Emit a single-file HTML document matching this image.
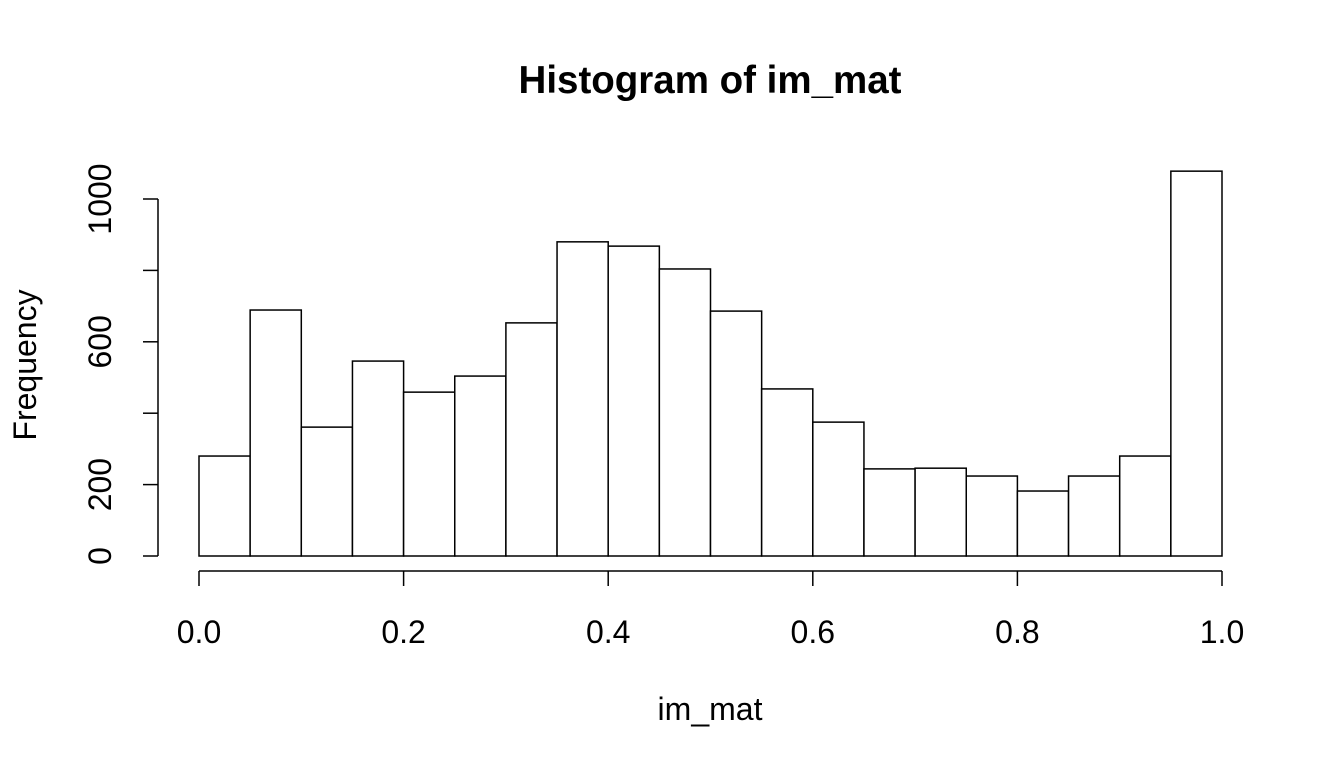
<!DOCTYPE html>
<html><head><meta charset="utf-8"><style>
body{margin:0;background:#fff}
svg text{font-family:"Liberation Sans",Arial,sans-serif;fill:#000}
</style></head><body>
<svg id="chart" width="1344" height="768" xmlns="http://www.w3.org/2000/svg">
<text x="710" y="93" font-size="38.5" font-weight="bold" text-anchor="middle">Histogram of im_mat</text>
<text x="710" y="720" font-size="32" text-anchor="middle">im_mat</text>
<text transform="translate(36,365) rotate(-90)" font-size="32" text-anchor="middle">Frequency</text>
<g id="bars"></g><g id="axes"></g>
</svg>
<script>
const binStarts=[0,0.05,0.1,0.15,0.2,0.25,0.3,0.35,0.4,0.45,0.5,0.55,0.6,0.65,0.7,0.75,0.8,0.85,0.9,0.95];
const counts=[280,689,361,546,459,504,653,880,868,804,686,468,375,244,246,224,182,224,280,1078];
const xTicks=[0,0.2,0.4,0.6,0.8,1.0];
const xTickLabels=["0.0","0.2","0.4","0.6","0.8","1.0"];
const yTicks=[0,200,600,1000];
const yTickLabels=["0","200","600","1000"];
const yMinorTicks=[400,800];
const binWidth=0.05;
const NS="http://www.w3.org/2000/svg";
const sx=v=>199+v*1023, sy=v=>556-v*0.357;
const bars=document.getElementById('bars'), axes=document.getElementById('axes');
function mk(tag,attrs,parent){const e=document.createElementNS(NS,tag);for(const k in attrs)e.setAttribute(k,attrs[k]);parent.appendChild(e);return e;}
binStarts.forEach((b,i)=>{
 const r=mk('rect',{x:sx(b),y:sy(counts[i]),width:sx(b+binWidth)-sx(b),height:sy(0)-sy(counts[i]),fill:'#fff',stroke:'#000','stroke-width':1.5},bars);
 
 
});
const xl=mk('line',{x1:sx(0),x2:sx(1),y1:571,y2:571,stroke:'#000','stroke-width':1.5},axes);


xTicks.forEach((t,i)=>{
 mk('line',{x1:sx(t),x2:sx(t),y1:571,y2:586,stroke:'#000','stroke-width':1.5},axes);
 const tx=mk('text',{x:sx(t),y:643,'font-size':32,'text-anchor':'middle'},axes);
 tx.textContent=xTickLabels[i];
 
 
});
const yl=mk('line',{x1:158,x2:158,y1:sy(0),y2:sy(1000),stroke:'#000','stroke-width':1.5},axes);


yTicks.concat(yMinorTicks).forEach(t=>{mk('line',{x1:143,x2:158,y1:sy(t),y2:sy(t),stroke:'#000','stroke-width':1.5},axes);});
yTicks.forEach((t,i)=>{
 const tx=mk('text',{transform:`translate(111,${sy(t)}) rotate(-90)`,'font-size':32,'text-anchor':'middle'},axes);
 tx.textContent=yTickLabels[i];
 
 
});
</script>
</body></html>
